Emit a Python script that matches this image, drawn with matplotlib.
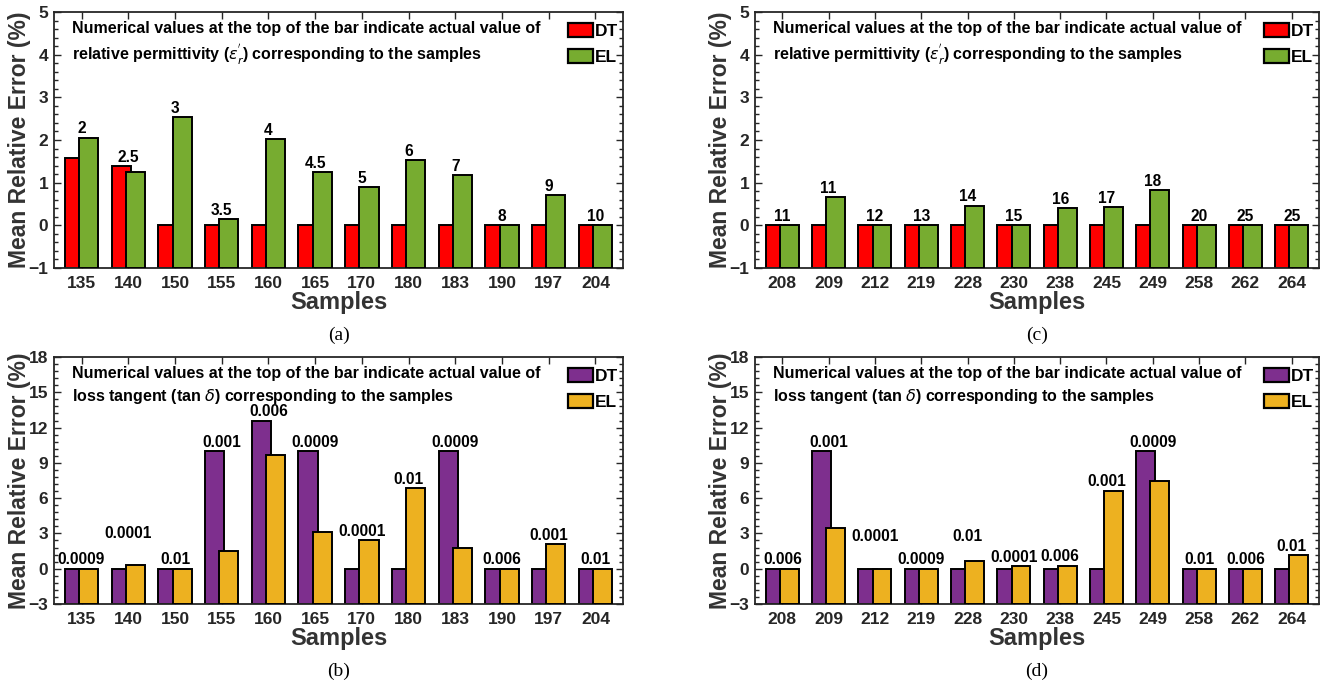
import numpy as np
import matplotlib
matplotlib.use("Agg")
import matplotlib.pyplot as plt
from matplotlib.ticker import MultipleLocator, AutoMinorLocator

# data
samples_left = ["135", "140", "150", "155", "160", "165", "170", "180", "183", "190", "197", "204"]
samples_right = ["208", "209", "212", "219", "228", "230", "238", "245", "249", "258", "262", "264"]

# (a) relative permittivity, left sample set
perm_dt_a = [1.58, 1.38, 0, 0, 0, 0, 0, 0, 0, 0, 0, 0]
perm_el_a = [2.05, 1.25, 2.54, 0.15, 2.02, 1.25, 0.90, 1.52, 1.17, 0, 0.71, 0]
perm_lab_a = ["2", "2.5", "3", "3.5", "4", "4.5", "5", "6", "7", "8", "9", "10"]
perm_floor_a = [0] * 12

# (c) relative permittivity, right sample set
perm_dt_c = [0] * 12
perm_el_c = [0, 0.66, 0, 0, 0.46, 0, 0.40, 0.43, 0.82, 0, 0, 0]
perm_lab_c = ["11", "11", "12", "13", "14", "15", "16", "17", "18", "20", "25", "25"]
perm_floor_c = [0] * 12

# (b) loss tangent, left sample set
loss_dt_b = [0, 0, 0, 10, 12.6, 10, 0, 0, 10, 0, 0, 0]
loss_el_b = [0, 0.28, 0, 1.52, 9.65, 3.12, 2.42, 6.85, 1.80, 0, 2.08, 0]
loss_lab_b = ["0.0009", "0.0001", "0.01", "0.001", "0.006", "0.0009", "0.0001",
              "0.01", "0.0009", "0.006", "0.001", "0.01"]
loss_floor_b = [0, 2.2, 0, 0, 0, 0, 0, 0, 0, 0, 0, 0]

# (d) loss tangent, right sample set
loss_dt_d = [0, 10, 0, 0, 0, 0, 0, 0, 10, 0, 0, 0]
loss_el_d = [0, 3.5, 0, 0, 0.64, 0.22, 0.26, 6.62, 7.48, 0, 0, 1.15]
loss_lab_d = ["0.006", "0.001", "0.0001", "0.0009", "0.01", "0.0001", "0.006",
              "0.001", "0.0009", "0.01", "0.006", "0.01"]
loss_floor_d = [0, 0, 2.0, 0, 2.0, 0, 0, 0, 0, 0, 0, 0]

W, H = 1331, 689
fig = plt.figure(figsize=(W / 100, H / 100), dpi=100)

SANS = ["Liberation Sans", "DejaVu Sans"]
INK = "#262626"

RED, GREEN = "#FF0000", "#77AC30"
PURPLE, GOLD = "#7E2F8E", "#EDB120"

NOTE_PERM = ("Numerical values at the top of the bar indicate actual value of\n"
             r"relative permittivity ($\epsilon^{'}_{r}$) corresponding to the samples")
NOTE_LOSS = ("Numerical values at the top of the bar indicate actual value of\n"
             r"loss tangent (tan $\delta$) corresponding to the samples")


def panel(box, cats, dt, el, labels, floor, colors, ylim, ystep, note, caption):
    l, t, r, b = box
    ax = fig.add_axes([l / W, 1 - b / H, (r - l) / W, (b - t) / H])
    x = np.arange(1, len(cats) + 1)
    w, off = 0.407, 0.153
    base = ylim[0]
    # bars grow from the bottom of the axis, as in the original figure
    ax.bar(x - off, np.array(dt) - base, w, bottom=base, color=colors[0],
           edgecolor="black", linewidth=1.4, label="DT", zorder=2)
    ax.bar(x + off, np.array(el) - base, w, bottom=base, color=colors[1],
           edgecolor="black", linewidth=1.4, label="EL", zorder=3)

    for xi, a, c, f, s in zip(x, dt, el, floor, labels):
        ax.annotate(s, (xi, max(a, c, f)), xytext=(0, 1.0), textcoords="offset points",
                    ha="center", va="bottom", fontsize=11.2, fontweight="bold",
                    family=SANS, color="black", zorder=5)

    ax.set_xlim(0.41, len(cats) + 0.59)
    ax.set_ylim(*ylim)
    ax.set_xticks(x)
    ax.set_xticklabels(cats)
    ax.yaxis.set_major_locator(MultipleLocator(ystep))
    ax.yaxis.set_minor_locator(AutoMinorLocator(5))
    ax.tick_params(axis="both", which="both", direction="in", top=True, right=True,
                   color=INK, width=1.0)
    ax.tick_params(axis="both", which="major", length=5)
    ax.tick_params(axis="y", which="minor", length=3)
    ax.tick_params(axis="x", which="minor", top=False, bottom=False)
    ax.tick_params(axis="x", pad=6, labelsize=12.5, labelcolor=INK)
    ax.tick_params(axis="y", pad=4, labelsize=12.5, labelcolor=INK)
    for lab in ax.get_xticklabels() + ax.get_yticklabels():
        lab.set_fontweight("bold")
        lab.set_family(SANS)
    for sp in ax.spines.values():
        sp.set_linewidth(1.3)
        sp.set_color(INK)

    hpx = b - t
    wpx = r - l
    ax.set_ylabel("Mean Relative Error (%)", fontsize=16.5, fontweight="bold",
                  family=SANS, color="#333333")
    ax.yaxis.set_label_coords(-23 / wpx, 0.5)
    ax.set_xlabel("Samples", fontsize=17, fontweight="bold", family=SANS, color="#333333")
    ax.xaxis.set_label_coords(0.5, -23 / hpx)

    ax.text(18 / wpx, 1 - 9 / hpx, note, transform=ax.transAxes, ha="left", va="top",
            fontsize=11.5, fontweight="bold", family=SANS, linespacing=1.4, color="black")

    leg = ax.legend(loc="upper right", bbox_to_anchor=(1.0 + 6 / wpx, 1.0), frameon=False,
                    handlelength=1.45, handleheight=0.85, handletextpad=0.1,
                    labelspacing=0.55, borderaxespad=0.25,
                    prop={"family": SANS, "weight": "bold", "size": 12.5})
    for p in leg.get_patches():
        p.set_linewidth(1.6)

    fig.text((l + r) / 2 / W, 1 - (b + 67) / H, caption, ha="center", va="center",
             fontsize=14, family=["Liberation Serif", "DejaVu Serif"], color="black")
    return ax


panel((54, 12, 623, 268), samples_left, perm_dt_a, perm_el_a, perm_lab_a, perm_floor_a,
      (RED, GREEN), (-1, 5), 1, NOTE_PERM, "(a)")
panel((755, 12, 1319, 268), samples_right, perm_dt_c, perm_el_c, perm_lab_c, perm_floor_c,
      (RED, GREEN), (-1, 5), 1, NOTE_PERM, "(c)")
panel((54, 357, 623, 604), samples_left, loss_dt_b, loss_el_b, loss_lab_b, loss_floor_b,
      (PURPLE, GOLD), (-3, 18), 3, NOTE_LOSS, "(b)")
panel((755, 357, 1319, 604), samples_right, loss_dt_d, loss_el_d, loss_lab_d, loss_floor_d,
      (PURPLE, GOLD), (-3, 18), 3, NOTE_LOSS, "(d)")

fig.savefig("out.png", dpi=100)
